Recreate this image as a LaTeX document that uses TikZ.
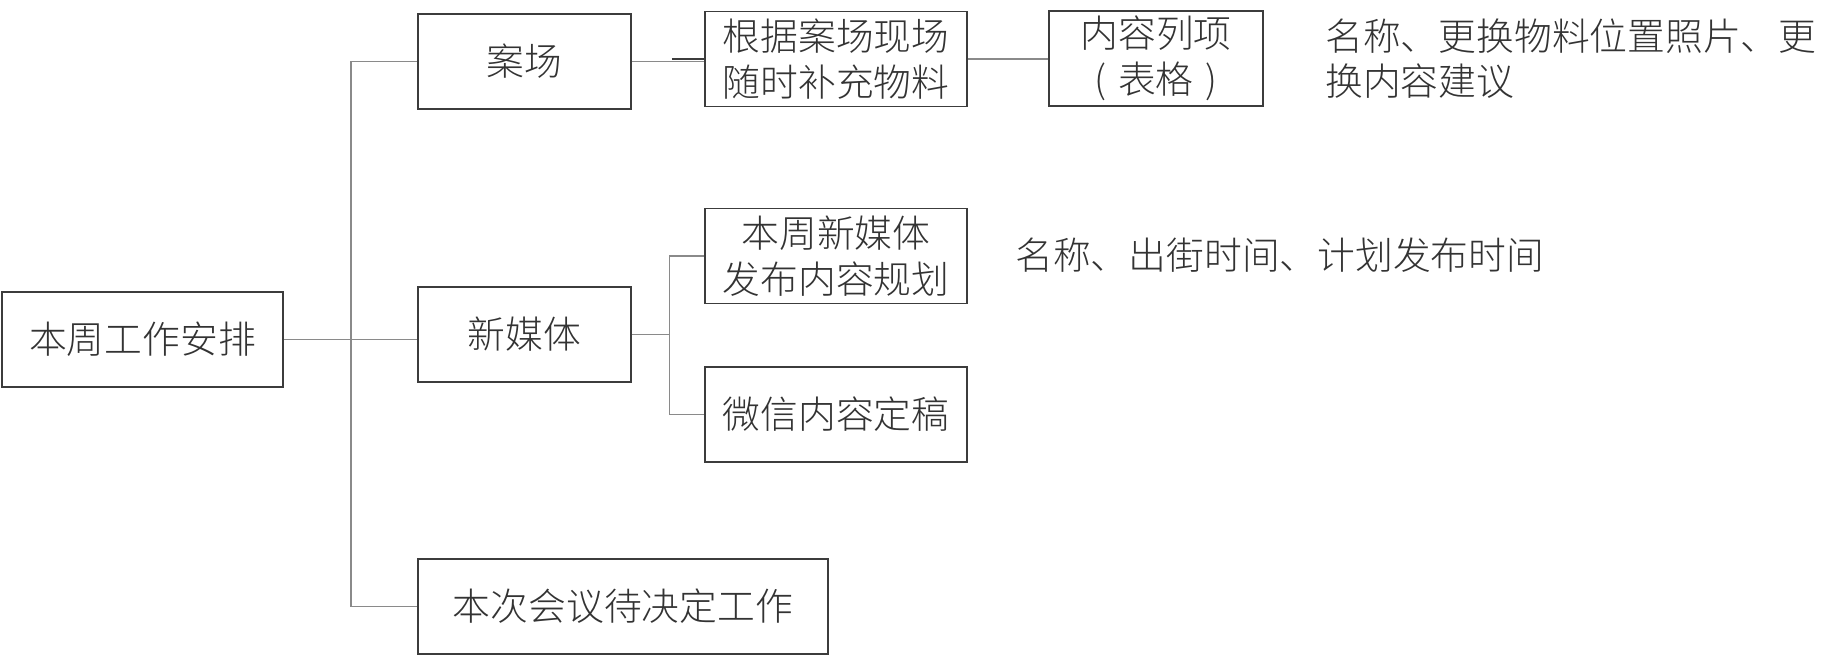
\documentclass[tikz,border=0pt]{standalone}
\usepackage{fontspec}
\usepackage{tikz}
\usetikzlibrary{positioning}
\newfontfamily\cjk{Noto Sans CJK SC Light}
\definecolor{BoxGray}{HTML}{3C3C3C}
\definecolor{LinkGray}{HTML}{8A8A8A}
\definecolor{TextGray}{HTML}{333333}

\begin{document}
\begin{tikzpicture}[
    every node/.style={font=\cjk\fontsize{21.5pt}{26pt}\selectfont, text=TextGray},
    box/.style={draw=BoxGray, line width=1.1pt, inner sep=0pt, minimum height=1.9cm, align=center},
    link/.style={draw=LinkGray, line width=0.6pt},
    note/.style={anchor=west, align=left, inner sep=0pt}
  ]
    \useasboundingbox (0,0) rectangle (36.82,-13.12);

    \node[box, minimum width=5.62cm] (zhou) at (2.85,-6.79) {本周工作安排};

    \node[box, minimum width=4.26cm] (anchang) at (10.49,-1.23) {案场};
    \node[box, minimum width=4.26cm] (xinmeiti) at (10.49,-6.69) {新媒体};
    \node[box, minimum width=8.2cm] (huiyi) at (12.46,-12.13) {本次会议待决定工作};

    \node[box, minimum width=5.25cm] (buchong) at (16.72,-1.18) {根据案场现场\\随时补充物料};
    \node[box, minimum width=5.25cm] (guihua) at (16.72,-5.12) {本周新媒体\\发布内容规划};
    \node[box, minimum width=5.25cm] (dinggao) at (16.72,-8.29) {微信内容定稿};

    \node[box, minimum width=4.27cm] (liexiang) at (23.12,-1.17) {内容列项\\(\hspace{0.3em}表格\hspace{0.3em})};

    \node[note] (mingcheng) at (26.5,-1.17) {名称、更换物料位置照片、更\\换内容建议};
    \node[note] (chujie) at (20.3,-5.1) {名称、出街时间、计划发布时间};

    \coordinate (trunk) at (7.02,-6.78);
    \coordinate (branch) at (13.39,-6.69);

    \draw[link] (anchang.west) -| (trunk) |- (huiyi.west);
    \draw[link] (zhou.east) -- (zhou.east -| xinmeiti.west);

    \draw[link] (anchang.east) -- (anchang.east -| buchong.west);
    \draw[draw=BoxGray, line width=1.1pt] ([xshift=-0.64cm]buchong.west) -- (buchong.west);
    \draw[link] (buchong.east) -- (buchong.east -| liexiang.west);

    \draw[link] (xinmeiti.east) -- (branch);
    \draw[link] (guihua.west) -| (branch) |- (dinggao.west);
  \end{tikzpicture}
\end{document}
